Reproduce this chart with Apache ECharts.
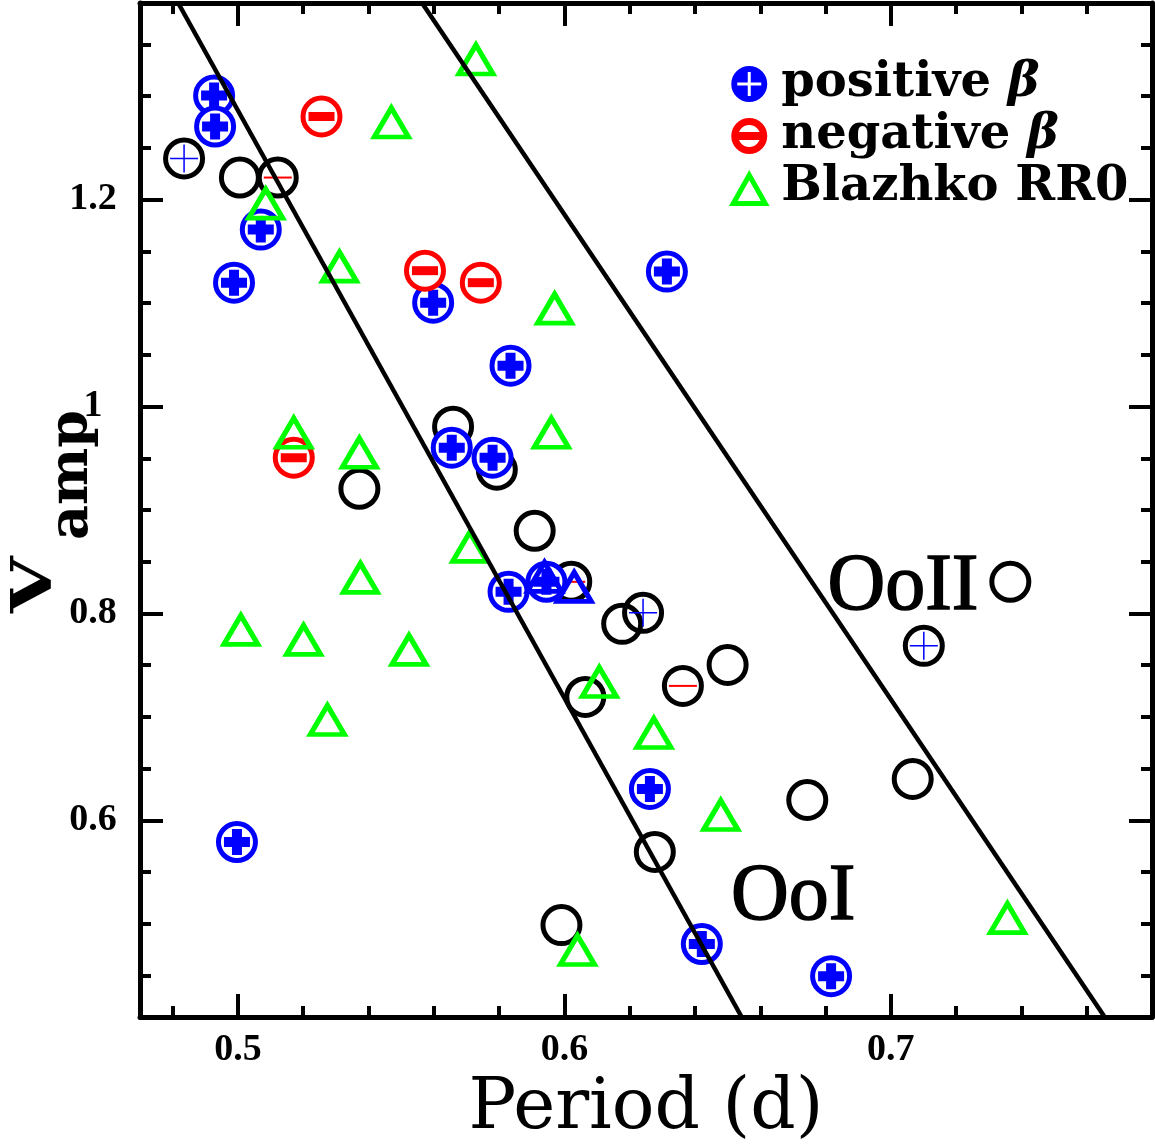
<!DOCTYPE html>
<html>
<head>
<meta charset="utf-8">
<script src="https://cdn.jsdelivr.net/npm/echarts@6/dist/echarts.min.js"></script>
<style>
html,body{margin:0;padding:0;background:#fff;}
#chart{width:1155px;height:1147px;}
</style>
</head>
<body>
<div id="chart"></div>
<script>
// ---------------- data (Period [d], V amplitude [mag]) ----------------
const positiveBeta = [
  [0.4927,1.3006],[0.4930,1.2706],[0.5070,1.1710],[0.4988,1.1197],[0.5598,1.1004],
  [0.6314,1.1304],[0.5835,1.0395],[0.5655,0.9602],[0.5780,0.9505],[0.5829,0.8209],
  [0.5945,0.8306],[0.6262,0.6304],[0.4997,0.5791],[0.6421,0.4805],[0.6817,0.4495]
];
const negativeBeta = [
  [0.5256,1.2803],[0.5573,1.1313],[0.5744,1.1197],[0.5171,0.9505]
];
const blazhkoRR0 = [
  [0.5729,1.3354],[0.5470,1.2745],[0.5085,1.1961],[0.5311,1.1352],[0.5970,1.0946],
  [0.5171,0.9747],[0.5372,0.9553],[0.5960,0.9747],[0.5710,0.8644],[0.5375,0.8344],
  [0.5009,0.7841],[0.5201,0.7745],[0.5274,0.6971],[0.5524,0.7648],[0.6107,0.7338],
  [0.6274,0.6845],[0.6479,0.6052],[0.6040,0.4747],[0.7357,0.5056]
];
// Blazhko stars drawn in blue (cluster near 0.6 d)
const blazhkoBlue = [[0.5939,0.8354],[0.6030,0.8257]];
// other RR0 stars (black circles); some carry a thin +/- mark
const otherStars = [
  [0.5006,1.2213],[0.5659,0.9805],[0.5793,0.9389],[0.5372,0.9205],[0.5909,0.8799],
  [0.6177,0.7900],[0.6064,0.7193],[0.6500,0.7503],[0.6277,0.5695],[0.5991,0.4988],
  [0.6744,0.6197],[0.7067,0.6400],[0.7366,0.8306]
];
const otherStarsPlus  = [[0.4835,1.2397],[0.6241,0.8006],[0.7101,0.7687]];
const otherStarsMinus = [[0.5122,1.2213],[0.6021,0.8306],[0.6363,0.7300]];
// Oosterhoff dividing lines (end points)
const ooLine1 = [[0.4817,1.39],[0.6543,0.41]];
const ooLine2 = [[0.5564,1.39],[0.7655,0.41]];
// group labels
const ooLabels = [[0.6701,0.525,'OoI'],[0.7037,0.8248,'OoII']];
// ticks
const xMajorTicks = [0.5,0.6,0.7];
const xMinorTicks = [0.48,0.52,0.54,0.56,0.58,0.62,0.64,0.66,0.68,0.72,0.74,0.76];
const yMajorTicks = [0.6,0.8,1.0,1.2];
const yMinorTicks = [0.45,0.5,0.55,0.65,0.7,0.75,0.85,0.9,0.95,1.05,1.1,1.15,1.25,1.3,1.35];

// ---------------- styling ----------------
const FONT = 'DejaVu Serif';
const X_MIN = 0.47, X_MAX = 0.78, Y_MIN = 0.41, Y_MAX = 1.39;
const BLUE = '#0000ff', RED = '#ff0000', GREEN = '#00ff00';

const PLUS_THICK = 'path://M8,0H18V8H26V18H18V26H8V18H0V8H8Z';
const PLUS_THIN  = 'path://M13.25,0H14.75V13.25H28V14.75H14.75V28H13.25V14.75H0V13.25H13.25Z';
const ICON_POS = 'path://M18,0A18,18,0,1,1,18,36A18,18,0,1,1,18,0Z' +
  'M16.5,6L16.5,16.5L6,16.5L6,19.5L16.5,19.5L16.5,30L19.5,30L19.5,19.5L30,19.5L30,16.5L19.5,16.5L19.5,6Z';
const ICON_NEG = 'path://M18,0A18,18,0,1,1,18,36A18,18,0,1,1,18,0Z' +
  'M18,7A11,11,0,1,0,18,29A11,11,0,1,0,18,7Z' +
  'M6,14L30,14L30,22L6,22Z';
const ICON_TRI = 'path://M18,0L36,32L0,32Z M18,9.2L7.7,27.5L28.3,27.5Z';

function makeAxis(dim, position, ticks, len, showLine, showLabels, extra) {
  const isX = dim === 'x';
  const a = {
    type: 'value',
    position: position,
    min: isX ? X_MIN : Y_MIN,
    max: isX ? X_MAX : Y_MAX,
    axisLine: { show: showLine, onZero: false, lineStyle: { color: '#000', width: 5, cap: 'round' } },
    axisTick: { show: true, inside: true, length: len, customValues: ticks,
                lineStyle: { color: '#000', width: 4 } },
    axisLabel: showLabels ? {
      show: true, customValues: ticks, color: '#000',
      fontFamily: 'Liberation Serif', fontWeight: 'bold', fontSize: 38,
      align: 'center',
      margin: isX ? 14 : 47,
      formatter: v => (Math.abs(v - 1) < 1e-9 ? '1' : Number(v).toFixed(1))
    } : { show: false },
    splitLine: { show: false },
    minorTick: { show: false },
    silent: true
  };
  return Object.assign(a, extra || {});
}

const ring = (data, name, color, fill) => ({
  type: 'scatter', name: name, data: data, silent: true,
  symbol: 'circle', symbolSize: 37,
  itemStyle: { color: fill, borderColor: color, borderWidth: 5, opacity: 1 },
  emphasis: { disabled: true }
});
const mark = (data, name, symbol, size, color) => ({
  type: 'scatter', name: name, data: data, silent: true,
  symbol: symbol, symbolSize: size, symbolKeepAspect: true,
  itemStyle: { color: color, borderWidth: 0, opacity: 1 },
  emphasis: { disabled: true }
});
const ooLine = (data) => ({
  type: 'line', data: data, silent: true, symbol: 'none',
  lineStyle: { color: '#000', width: 4.5 }, emphasis: { disabled: true }, z: 5
});

const option = {
  animation: false,
  backgroundColor: '#fff',
  textStyle: { fontFamily: FONT },
  grid: { left: 140, right: 3, top: 3, bottom: 130, outerBoundsMode: 'none' },
  xAxis: [
    makeAxis('x', 'bottom', xMajorTicks, 23, true, true, {
      name: 'Period (d)', nameLocation: 'middle', nameGap: 57,
      nameTextStyle: { fontFamily: FONT, fontSize: 71, color: '#000' }
    }),
    makeAxis('x', 'bottom', xMinorTicks, 11, false, false),
    makeAxis('x', 'top', xMajorTicks, 23, true, false),
    makeAxis('x', 'top', xMinorTicks, 11, false, false)
  ],
  yAxis: [
    makeAxis('y', 'left', yMajorTicks, 23, true, true),
    makeAxis('y', 'left', yMinorTicks, 11, false, false),
    makeAxis('y', 'right', yMajorTicks, 23, true, false),
    makeAxis('y', 'right', yMinorTicks, 11, false, false)
  ],
  legend: {
    orient: 'vertical', left: 724, top: 55,
    itemWidth: 54, itemHeight: 36, itemGap: 4,
    selectedMode: false, symbolKeepAspect: true,
    textStyle: {
      fontFamily: FONT, fontWeight: 'bold', fontSize: 48, color: '#000',
      rich: { b: { fontFamily: FONT, fontWeight: 'bold', fontStyle: 'italic', fontSize: 48, color: '#000' } }
    },
    formatter: name => name.replace('β', '{b|β}'),
    data: [
      { name: 'positive β', icon: ICON_POS, itemStyle: { color: BLUE, borderWidth: 0 } },
      { name: 'negative β', icon: ICON_NEG, itemStyle: { color: RED, borderWidth: 0 } },
      { name: 'Blazhko RR0', icon: ICON_TRI, itemStyle: { color: GREEN, borderWidth: 0 } }
    ]
  },
  graphic: [{
    type: 'group', x: 62, y: 613, rotation: Math.PI / 2, silent: true,
    children: [
      { type: 'text', x: 0, y: 2, scaleX: 1.3,
        style: { text: 'V', font: 'bold 56px "DejaVu Serif"', fill: '#000', align: 'left', verticalAlign: 'bottom' } },
      { type: 'text', x: 73, y: 38,
        style: { text: 'amp', font: 'bold 54px "DejaVu Serif"', fill: '#000', align: 'left', verticalAlign: 'bottom' } }
    ]
  }],
  series: [
    ring(otherStars.concat(otherStarsPlus, otherStarsMinus), 'other', '#000', 'rgba(0,0,0,0)'),
    mark(otherStarsPlus, 'other', PLUS_THIN, 28, BLUE),
    mark(otherStarsMinus, 'other', 'rect', [28, 2], RED),
    ring(positiveBeta, 'positive β', BLUE, '#fff'),
    mark(positiveBeta, 'positive β', PLUS_THICK, 26, BLUE),
    ring(negativeBeta, 'negative β', RED, '#fff'),
    mark(negativeBeta, 'negative β', 'rect', [26, 9], RED),
    {
      type: 'scatter', name: 'Blazhko RR0', data: blazhkoRR0, silent: true,
      symbol: 'triangle', symbolSize: [34, 29],
      itemStyle: { color: 'rgba(0,0,0,0)', borderColor: GREEN, borderWidth: 5, opacity: 1 },
      emphasis: { disabled: true }
    },
    {
      type: 'scatter', name: 'blue', data: blazhkoBlue, silent: true,
      symbol: 'triangle', symbolSize: [34, 29],
      itemStyle: { color: 'rgba(0,0,0,0)', borderColor: BLUE, borderWidth: 5, opacity: 1 },
      emphasis: { disabled: true }
    },
    ooLine(ooLine1),
    ooLine(ooLine2),
    {
      type: 'scatter', name: 'labels', data: ooLabels, silent: true,
      symbolSize: 1, itemStyle: { color: 'rgba(0,0,0,0)' }, z: 6,
      label: {
        show: true, position: 'inside', formatter: p => p.data[2],
        fontFamily: 'Liberation Serif', fontSize: 80, color: '#000', opacity: 1,
        textBorderColor: '#000', textBorderWidth: 1.5
      },
      emphasis: { disabled: true }
    }
  ]
};

const chart = echarts.init(document.getElementById('chart'), null, { renderer: 'canvas' });
chart.setOption(option);
</script>
</body>
</html>
